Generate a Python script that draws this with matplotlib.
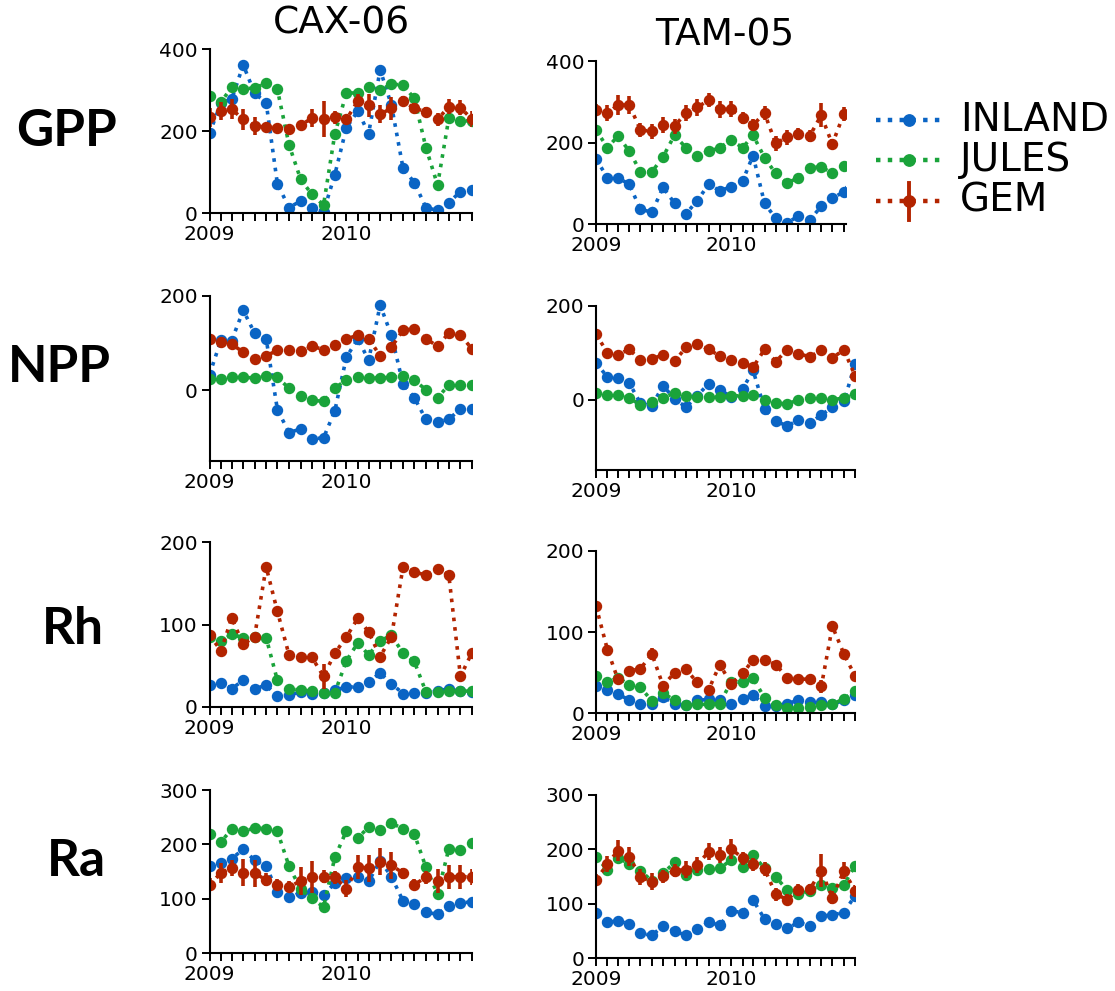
import numpy as np
import pandas as pd
import matplotlib
matplotlib.use("Agg")
import matplotlib.pyplot as plt
import matplotlib.dates as mdates
from matplotlib.lines import Line2D

# Monthly time axis, Jan 2009 - Dec 2010
months = pd.date_range("2009-01-01", periods=24, freq="MS")

sites = ["CAX-06", "TAM-05"]
fluxes = ["GPP", "NPP", "Rh", "Ra"]
models = ["INLAND", "JULES", "GEM"]
colors = {"INLAND": "#0a64c4", "JULES": "#1aa33a", "GEM": "#b32400"}

# ---- CAX-06 ----
cax_gpp_inland = [195, 270, 278, 362, 293, 270, 72, 14, 30, 12, 4, 94, 209, 250, 194, 350, 264, 110, 75, 14, 7, 26, 53, 57]
cax_gpp_jules = [286, 272, 307, 303, 306, 317, 302, 167, 83, 46, 20, 193, 294, 293, 309, 301, 315, 313, 280, 160, 69, 232, 226, 225]
cax_gpp_gem = [234, 250, 254, 229, 213, 210, 209, 205, 215, 232, 230, 234, 229, 275, 264, 242, 256, 274, 256, 248, 229, 260, 258, 230]
cax_gpp_gem_err = [23, 22, 25, 26, 22, 10, 10, 8, 8, 22, 43, 16, 10, 16, 28, 22, 28, 12, 12, 12, 15, 19, 19, 19]

cax_npp_inland = [33, 107, 105, 169, 121, 109, -41, -90, -82, -103, -101, -44, 70, 109, 63, 180, 116, 13, -16, -62, -67, -62, -39, -39]
cax_npp_jules = [23, 23, 27, 27, 26, 29, 27, 4, -12, -21, -24, 4, 22, 27, 26, 26, 27, 29, 21, 1, -16, 11, 11, 11]
cax_npp_gem = [108, 102, 98, 80, 65, 73, 84, 85, 82, 93, 86, 95, 109, 116, 109, 73, 91, 127, 130, 109, 93, 121, 117, 88]
cax_npp_gem_err = [4] * 24

cax_rh_inland = [26, 29, 22, 32, 22, 26, 13, 14, 18, 15, 17, 20, 24, 24, 30, 41, 28, 16, 17, 17, 19, 22, 19, 18]
cax_rh_jules = [85, 80, 88, 84, 85, 84, 32, 22, 20, 19, 17, 17, 56, 78, 63, 80, 87, 65, 55, 18, 18, 19, 19, 19]
cax_rh_gem = [87, 68, 108, 76, 85, 170, 116, 63, 61, 60, 37, 65, 85, 108, 91, 61, 85, 170, 164, 160, 168, 160, 37, 65]
cax_rh_gem_err = [3, 3, 3, 3, 3, 3, 3, 3, 3, 3, 15, 3, 3, 3, 3, 3, 3, 3, 3, 3, 3, 3, 3, 3]

cax_ra_inland = [161, 165, 174, 191, 171, 160, 113, 103, 111, 112, 107, 129, 138, 141, 132, 170, 141, 96, 90, 75, 72, 87, 92, 95]
cax_ra_jules = [219, 205, 228, 224, 230, 229, 224, 160, 118, 101, 85, 176, 225, 212, 232, 226, 239, 229, 219, 158, 109, 192, 190, 202]
cax_ra_gem = [126, 148, 157, 148, 147, 135, 126, 122, 133, 140, 141, 140, 119, 159, 156, 168, 162, 147, 126, 140, 133, 140, 141, 140]
cax_ra_gem_err = [12, 18, 15, 25, 25, 12, 10, 10, 25, 30, 12, 12, 15, 22, 25, 25, 25, 10, 10, 12, 22, 22, 22, 15]

# ---- TAM-05 ----
tam_gpp_inland = [159, 114, 114, 97, 36, 29, 90, 51, 25, 57, 97, 82, 91, 106, 168, 51, 14, 2, 20, 10, 43, 63, 79, 120]
tam_gpp_jules = [231, 187, 216, 179, 128, 128, 165, 218, 187, 168, 178, 187, 206, 187, 218, 163, 124, 100, 114, 137, 141, 124, 143, 167]
tam_gpp_gem = [280, 272, 292, 292, 231, 227, 243, 240, 273, 286, 304, 281, 282, 261, 243, 272, 198, 213, 221, 216, 267, 196, 270, 255]
tam_gpp_gem_err = [15, 20, 25, 22, 18, 18, 20, 18, 20, 20, 18, 20, 20, 15, 15, 18, 18, 18, 15, 15, 30, 12, 18, 18]

tam_npp_inland = [78, 48, 46, 35, -8, -13, 30, 1, -16, 8, 34, 21, 6, 23, 62, -20, -46, -56, -44, -50, -33, -16, -4, 75]
tam_npp_jules = [14, 9, 10, 3, -11, -6, 4, 14, 8, 5, 5, 6, 8, 8, 9, 0, -8, -9, -1, 4, 3, -1, 4, 11]
tam_npp_gem = [139, 100, 96, 107, 84, 86, 96, 82, 111, 118, 107, 93, 85, 79, 69, 107, 81, 106, 98, 91, 105, 89, 106, 51]
tam_npp_gem_err = [4] * 24

tam_rh_inland = [34, 29, 24, 16, 11, 11, 20, 12, 10, 16, 17, 16, 12, 18, 23, 9, 9, 12, 16, 14, 14, 11, 16, 23]
tam_rh_jules = [46, 38, 44, 35, 32, 15, 25, 16, 10, 11, 11, 12, 39, 38, 43, 19, 10, 7, 6, 8, 10, 11, 18, 27]
tam_rh_gem = [132, 78, 42, 52, 55, 73, 34, 50, 54, 38, 29, 60, 36, 49, 66, 66, 60, 44, 42, 42, 33, 107, 73, 46]
tam_rh_gem_err = [5, 3, 3, 3, 3, 7, 3, 3, 3, 3, 5, 3, 3, 3, 3, 3, 3, 3, 3, 3, 8, 3, 4, 3]

tam_ra_inland = [83, 66, 69, 63, 46, 42, 60, 50, 42, 54, 66, 61, 87, 84, 107, 72, 63, 55, 66, 60, 77, 80, 84, 115]
tam_ra_jules = [187, 162, 185, 173, 161, 142, 156, 176, 153, 162, 164, 165, 181, 167, 190, 165, 149, 126, 118, 124, 135, 129, 135, 170]
tam_ra_gem = [144, 173, 198, 187, 149, 141, 151, 161, 163, 171, 196, 190, 201, 184, 173, 164, 118, 108, 126, 127, 161, 111, 161, 124]
tam_ra_gem_err = [10, 15, 20, 18, 15, 15, 12, 12, 15, 15, 15, 15, 18, 12, 12, 12, 12, 10, 10, 10, 30, 12, 15, 10]

series = {
    ("CAX-06", "GPP"): (cax_gpp_inland, cax_gpp_jules, cax_gpp_gem, cax_gpp_gem_err),
    ("CAX-06", "NPP"): (cax_npp_inland, cax_npp_jules, cax_npp_gem, cax_npp_gem_err),
    ("CAX-06", "Rh"): (cax_rh_inland, cax_rh_jules, cax_rh_gem, cax_rh_gem_err),
    ("CAX-06", "Ra"): (cax_ra_inland, cax_ra_jules, cax_ra_gem, cax_ra_gem_err),
    ("TAM-05", "GPP"): (tam_gpp_inland, tam_gpp_jules, tam_gpp_gem, tam_gpp_gem_err),
    ("TAM-05", "NPP"): (tam_npp_inland, tam_npp_jules, tam_npp_gem, tam_npp_gem_err),
    ("TAM-05", "Rh"): (tam_rh_inland, tam_rh_jules, tam_rh_gem, tam_rh_gem_err),
    ("TAM-05", "Ra"): (tam_ra_inland, tam_ra_jules, tam_ra_gem, tam_ra_gem_err),
}

y_limits = {"GPP": (0, 400), "NPP": (-150, 200), "Rh": (0, 200), "Ra": (0, 300)}
y_ticks = {"GPP": [0, 200, 400], "NPP": [0, 200], "Rh": [0, 100, 200], "Ra": [0, 100, 200, 300]}

W, H = 1115, 991
# panel boxes in pixels: (left, right, top, bottom)
boxes = {
    ("CAX-06", "GPP"): (209.5, 471.7, 49.3, 213.3),
    ("TAM-05", "GPP"): (596.0, 846.0, 61.0, 224.0),
    ("CAX-06", "NPP"): (209.5, 471.7, 295.7, 461.0),
    ("TAM-05", "NPP"): (596.0, 855.0, 305.7, 470.0),
    ("CAX-06", "Rh"): (209.5, 471.7, 542.3, 706.7),
    ("TAM-05", "Rh"): (596.0, 855.0, 550.7, 713.3),
    ("CAX-06", "Ra"): (209.5, 471.7, 790.0, 953.3),
    ("TAM-05", "Ra"): (596.0, 855.0, 795.0, 958.3),
}
x_end = {("TAM-05", "GPP"): pd.Timestamp("2010-11-07")}

plt.rcParams["font.family"] = ["DejaVu Sans"]
fig = plt.figure(figsize=(W / 100, H / 100), dpi=100)

LW = 2.6
MS = 7.2

for (site, flux), (l, r, t, b) in boxes.items():
    ax = fig.add_axes([l / W, 1 - b / H, (r - l) / W, (b - t) / H])
    inland, jules, gem, gem_err = series[(site, flux)]
    ax.plot(months, inland, ls=":", lw=LW, marker="o", ms=MS, color=colors["INLAND"])
    ax.plot(months, jules, ls=":", lw=LW, marker="o", ms=MS, color=colors["JULES"])
    ax.errorbar(months, gem, yerr=gem_err, ls=":", lw=LW, marker="o", ms=MS,
                color=colors["GEM"], elinewidth=2.6, capsize=0)
    ax.set_ylim(*y_limits[flux])
    ax.set_yticks(y_ticks[flux])
    ax.set_xlim(months[0], x_end.get((site, flux), months[-1]))
    ax.xaxis.set_major_locator(mdates.YearLocator())
    ax.xaxis.set_major_formatter(mdates.DateFormatter("%Y"))
    ax.xaxis.set_minor_locator(mdates.MonthLocator())
    for side in ("top", "right"):
        ax.spines[side].set_visible(False)
    for side in ("left", "bottom"):
        ax.spines[side].set_linewidth(1.5)
    ax.tick_params(axis="both", which="major", labelsize=14.5, length=5.5, width=1.4, pad=3)
    ax.tick_params(axis="x", which="minor", length=5.5, width=1.4)
    for lab in ax.get_xticklabels():
        lab.set_horizontalalignment("center")

# column titles
fig.text(341 / W, 1 - 23 / H, "CAX-06", fontsize=27, ha="center", va="center")
fig.text(725 / W, 1 - 35 / H, "TAM-05", fontsize=27, ha="center", va="center")

# row labels
row_pos = {"GPP": (66, 131), "NPP": (59, 368), "Rh": (73, 630), "Ra": (76, 862)}
for flux, (x, y) in row_pos.items():
    fig.text(x / W, 1 - y / H, flux, fontsize=37, fontweight="bold",
             family=["Lato", "DejaVu Sans"], ha="center", va="center")

# legend
leg_rows = {"INLAND": 120, "JULES": 160, "GEM": 201}
for name, y in leg_rows.items():
    yf = 1 - y / H
    fig.add_artist(Line2D([876 / W, 945 / W], [yf, yf], ls=":", lw=LW + 0.6,
                          color=colors[name], transform=fig.transFigure))
    fig.add_artist(Line2D([909 / W], [yf], marker="o", ms=MS + 1, ls="none",
                          color=colors[name], transform=fig.transFigure))
    if name == "GEM":
        fig.add_artist(Line2D([909 / W, 909 / W], [1 - 183 / H, 1 - 220 / H], lw=2.8,
                              color=colors[name], transform=fig.transFigure))
    fig.text(960 / W, yf, name, fontsize=28, ha="left", va="center")

fig.savefig("out.png", dpi=100)
